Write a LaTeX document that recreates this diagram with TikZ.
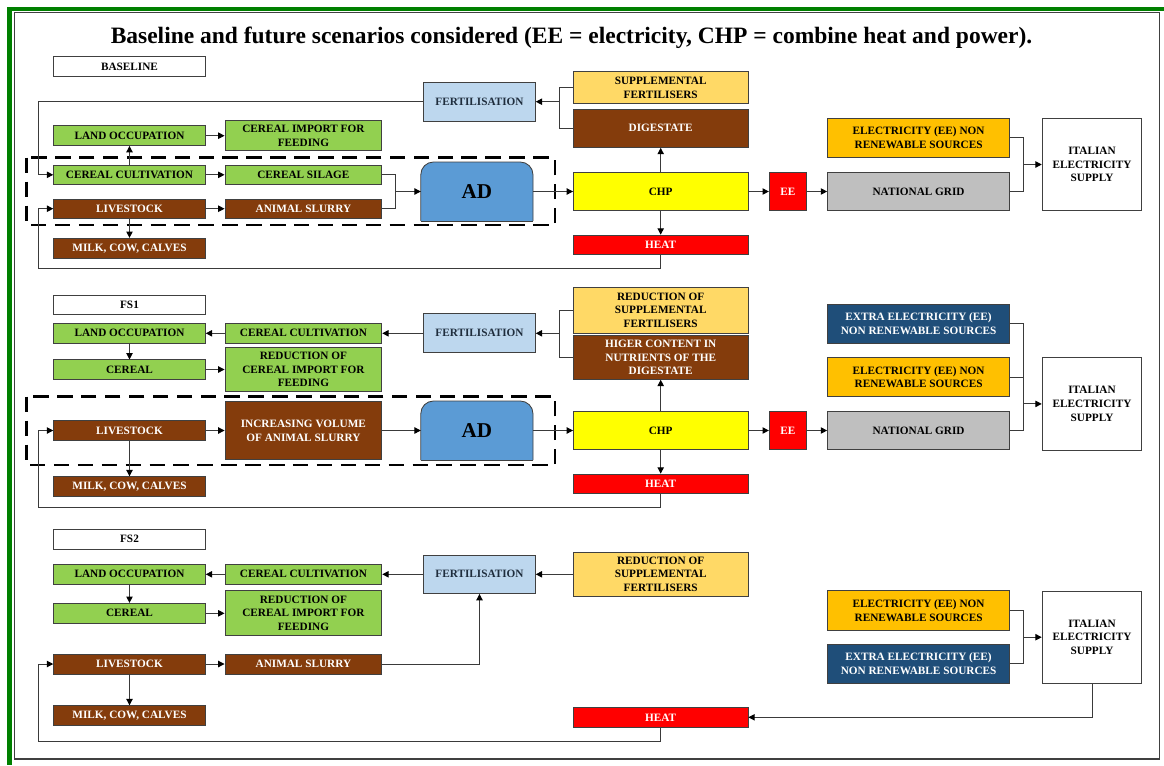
\documentclass[tikz,border=0pt]{standalone}
\usepackage{fontspec}
\setmainfont{Liberation Serif}
\usepackage{xcolor}
\usepackage{tikz}
\usetikzlibrary{positioning,arrows.meta,backgrounds}
\definecolor{cgreen}{HTML}{92D050}
\definecolor{cbrown}{HTML}{843C0C}
\definecolor{cfert}{HTML}{BDD7EE}
\definecolor{csupp}{HTML}{FFD966}
\definecolor{cchp}{HTML}{FFFF00}
\definecolor{cred}{HTML}{FF0000}
\definecolor{cgrid}{HTML}{BFBFBF}
\definecolor{celec}{HTML}{FFC000}
\definecolor{cblue}{HTML}{1F4E79}
\definecolor{cad}{HTML}{5B9BD5}
\definecolor{boxline}{HTML}{404040}
\definecolor{cline}{HTML}{3A3A3A}
\definecolor{cframe}{HTML}{008000}
\definecolor{navytext}{HTML}{1F2D3D}

\begin{document}
\begin{tikzpicture}[
  x=0.025cm, y=-0.025cm,
  box/.style={
    draw=boxline,
    line width=0.6pt,
    rectangle,
    align=center,
    inner sep=1pt,
    font=\fontsize{8}{9.8}\selectfont\bfseries
  },
  whtbox/.style={box, fill=white},
  grnbox/.style={box, fill=cgreen},
  brnbox/.style={box, fill=cbrown, text=white},
  fertbox/.style={box, fill=cfert, text=navytext},
  suppbox/.style={box, fill=csupp},
  chpbox/.style={box, fill=cchp},
  redbox/.style={box, fill=cred, text=white},
  gridbox/.style={box, fill=cgrid},
  elecbox/.style={box, fill=celec},
  bluebox/.style={box, fill=cblue, text=white},
  adbox/.style={minimum width=2.79cm, minimum height=1.46cm, font=\fontsize{15}{17}\selectfont\bfseries},
  adshape/.style={fill=cad, draw=boxline, line width=0.6pt, rounded corners=9pt},
  wL/.style={minimum width=3.79cm},
  wM/.style={minimum width=3.92cm},
  wF/.style={minimum width=2.79cm},
  wC/.style={minimum width=4.36cm},
  wG/.style={minimum width=4.55cm},
  wI/.style={minimum width=2.49cm},
  link/.style={draw=cline, line width=0.7pt},
  arr/.style={link, -{Triangle[length=4.5pt,width=4.5pt,color=black]}},
  dashbox/.style={draw=black, line width=1.9pt, dash pattern=on 11pt off 6pt}
]
\useasboundingbox (0,0) rectangle (1164,765);

\fill[cframe] (7,6.5) rectangle (1164,10.5);
\fill[cframe] (7,6.5) rectangle (12,765);
\draw[boxline, line width=0.8pt] (14.5,12.5) rectangle (1159.5,759);

\node[font=\fontsize{16.7}{18}\selectfont\bfseries] (title) at (571.5,38)
{Baseline and future scenarios considered (EE = electricity, CHP = combine heat and power).};

\node[whtbox, wL, minimum height=0.5cm] (base) at (129.5,66.7) {BASELINE};
\node[fertbox, wF, minimum height=0.97cm] (fert1) at (479.5,101.7) {FERTILISATION};
\node[suppbox, wC, minimum height=0.79cm] (supp1) at (660.7,87.5) {SUPPLEMENTAL\\FERTILISERS};
\node[brnbox, wC, minimum height=0.96cm] (dig1) at (660.7,128.2) {DIGESTATE};
\node[grnbox, wL, minimum height=0.49cm] (land1) at (129.5,135.7) {LAND OCCUPATION};
\node[grnbox, wM, minimum height=0.75cm] (imp1) at (303.4,135.7) {CEREAL IMPORT FOR\\FEEDING};
\node[elecbox, wG, minimum height=0.98cm] (elec1) at (918.6,137.8) {ELECTRICITY (EE) NON\\RENEWABLE SOURCES};
\node[whtbox, wI, minimum height=2.31cm] (ital1) at (1092,164.5) {ITALIAN\\ELECTRICITY\\SUPPLY};
\node[grnbox, wL, minimum height=0.48cm] (cult1) at (129.5,174.8) {CEREAL CULTIVATION};
\node[grnbox, wM, minimum height=0.48cm] (sil1) at (303.4,174.8) {CEREAL SILAGE};
\node[adbox] (ad1) at (476.9,191.5) {AD};
\node[chpbox, wC, minimum height=0.96cm] (chp1) at (660.7,191.5) {CHP};
\node[redbox, minimum width=0.93cm, minimum height=0.96cm] (ee1) at (787.9,191.5) {EE};
\node[gridbox, wG, minimum height=0.96cm] (grid1) at (918.6,191.5) {NATIONAL GRID};
\node[brnbox, wL, minimum height=0.48cm] (live1) at (129.5,208.7) {LIVESTOCK};
\node[brnbox, wM, minimum height=0.48cm] (slur1) at (303.4,208.7) {ANIMAL SLURRY};
\node[brnbox, wL, minimum height=0.5cm] (milk1) at (129.5,248.3) {MILK, COW, CALVES};
\node[redbox, wC, minimum height=0.48cm] (heat1) at (660.7,244.7) {HEAT};

\draw[dashbox] (26.6,157.7) rectangle (555,225);

\coordinate (j1) at (559.4,101.7);
\draw[link] (supp1.west) -| (j1) |- (dig1.west);
\draw[arr] (j1) -- (fert1);
\coordinate (l1) at (38.8,101.7);
\draw[arr] (fert1.west) -- (l1) |- (cult1.west);
\draw[arr] (cult1) -- (land1);
\draw[arr] (land1) -- (imp1);
\draw[arr] (cult1) -- (sil1);
\draw[arr] (live1) -- (slur1);
\draw[arr] (live1) -- (milk1);
\coordinate (m1) at (395.9,191.5);
\draw[link] (sil1.east) -| (m1) |- (slur1.east);
\draw[arr] (m1) -- (ad1);
\draw[arr] (ad1) -- (chp1);
\draw[arr] (chp1) -- (dig1);
\draw[arr] (chp1) -- (heat1);
\draw[arr] (chp1) -- (ee1);
\draw[arr] (ee1) -- (grid1);
\coordinate (j2) at (1023.4,164.5);
\draw[link] (elec1.east) -| (j2) |- (grid1.east);
\draw[arr] (j2) -- (ital1);
\coordinate (l2) at (38.8,268.3);
\draw[arr] (heat1.south) |- (l2) |- (live1.west);

\node[whtbox, wL, minimum height=0.48cm] (fs1) at (129.5,305.3) {FS1};
\node[grnbox, wL, minimum height=0.5cm] (land2) at (129.5,333.3) {LAND OCCUPATION};
\node[grnbox, wM, minimum height=0.5cm] (cult2) at (303.4,333.3) {CEREAL CULTIVATION};
\node[fertbox, wF, minimum height=0.975cm] (fert2) at (479.5,333.3) {FERTILISATION};
\node[suppbox, wC, minimum height=1.15cm] (supp2) at (660.7,310.3) {REDUCTION OF\\SUPPLEMENTAL\\FERTILISERS};
\node[brnbox, wC, minimum height=1.09cm] (dig2) at (660.7,357.5) {HIGER CONTENT IN\\NUTRIENTS OF THE\\DIGESTATE};
\node[bluebox, wG, minimum height=0.98cm] (extra2) at (918.6,323.7) {EXTRA ELECTRICITY (EE)\\NON RENEWABLE SOURCES};
\node[elecbox, wG, minimum height=0.98cm] (elec2) at (918.6,377.2) {ELECTRICITY (EE) NON\\RENEWABLE SOURCES};
\node[whtbox, wI, minimum height=2.31cm] (ital2) at (1092,403.9) {ITALIAN\\ELECTRICITY\\SUPPLY};
\node[grnbox, wL, minimum height=0.48cm] (cer2) at (129.5,369.5) {CEREAL};
\node[grnbox, wM, minimum height=1.08cm] (red2) at (303.4,369.5) {REDUCTION OF\\CEREAL IMPORT FOR\\FEEDING};
\node[brnbox, wL, minimum height=0.48cm] (live2) at (129.5,430.5) {LIVESTOCK};
\node[brnbox, wM, minimum height=1.43cm] (inc2) at (303.4,430.5) {INCREASING VOLUME\\OF ANIMAL SLURRY};
\node[adbox] (ad2) at (476.9,430.5) {AD};
\node[chpbox, wC, minimum height=0.97cm] (chp2) at (660.7,430.5) {CHP};
\node[redbox, minimum width=0.93cm, minimum height=0.97cm] (ee2) at (787.9,430.5) {EE};
\node[gridbox, wG, minimum height=0.97cm] (grid2) at (918.6,430.5) {NATIONAL GRID};
\node[brnbox, wL, minimum height=0.5cm] (milk2) at (129.5,486.7) {MILK, COW, CALVES};
\node[redbox, wC, minimum height=0.48cm] (heat2) at (660.7,483.7) {HEAT};

\draw[dashbox] (26.6,396.7) rectangle (555,465);

\coordinate (j3) at (559.4,333.3);
\draw[link] (supp2.west) -| (j3) |- (dig2.west);
\draw[arr] (j3) -- (fert2);
\draw[arr] (fert2) -- (cult2);
\draw[arr] (cult2) -- (land2);
\draw[arr] (land2) -- (cer2);
\draw[arr] (cer2) -- (red2);
\draw[arr] (live2) -- (inc2);
\draw[arr] (inc2) -- (ad2);
\draw[arr] (ad2) -- (chp2);
\draw[arr] (live2) -- (milk2);
\draw[arr] (chp2) -- (dig2);
\draw[arr] (chp2) -- (heat2);
\draw[arr] (chp2) -- (ee2);
\draw[arr] (ee2) -- (grid2);
\coordinate (j4) at (1023.4,403.9);
\draw[link] (extra2.east) -| (j4) |- (grid2.east);
\draw[link] (elec2.east) -- (elec2.east -| j4);
\draw[arr] (j4) -- (ital2);
\coordinate (l3) at (38.8,507.7);
\draw[arr] (heat2.south) |- (l3) |- (live2.west);

\node[whtbox, wL, minimum height=0.5cm] (fs2) at (129.5,539.3) {FS2};
\node[grnbox, wL, minimum height=0.5cm] (land3) at (129.5,574.3) {LAND OCCUPATION};
\node[grnbox, wM, minimum height=0.5cm] (cult3) at (303.4,574.3) {CEREAL CULTIVATION};
\node[fertbox, wF, minimum height=0.96cm] (fert3) at (479.5,574.3) {FERTILISATION};
\node[suppbox, wC, minimum height=1.11cm] (supp3) at (660.7,574.3) {REDUCTION OF\\SUPPLEMENTAL\\FERTILISERS};
\node[grnbox, wL, minimum height=0.5cm] (cer3) at (129.5,613.3) {CEREAL};
\node[grnbox, wM, minimum height=1.125cm] (red3) at (303.4,613.3) {REDUCTION OF\\CEREAL IMPORT FOR\\FEEDING};
\node[elecbox, wG, minimum height=0.98cm] (elec3) at (918.6,610.5) {ELECTRICITY (EE) NON\\RENEWABLE SOURCES};
\node[bluebox, wG, minimum height=0.98cm] (extra3) at (918.6,663.8) {EXTRA ELECTRICITY (EE)\\NON RENEWABLE SOURCES};
\node[whtbox, wI, minimum height=2.31cm] (ital3) at (1092,637.2) {ITALIAN\\ELECTRICITY\\SUPPLY};
\node[brnbox, wL, minimum height=0.5cm] (live3) at (129.5,664) {LIVESTOCK};
\node[brnbox, wM, minimum height=0.5cm] (slur3) at (303.4,664) {ANIMAL SLURRY};
\node[brnbox, wL, minimum height=0.5cm] (milk3) at (129.5,715.7) {MILK, COW, CALVES};
\node[redbox, wC, minimum height=0.5cm] (heat3) at (660.7,717.3) {HEAT};

\draw[arr] (supp3) -- (fert3);
\draw[arr] (fert3) -- (cult3);
\draw[arr] (cult3) -- (land3);
\draw[arr] (land3) -- (cer3);
\draw[arr] (cer3) -- (red3);
\draw[arr] (live3) -- (slur3);
\draw[arr] (live3) -- (milk3);
\draw[arr] (slur3.east) -| (fert3.south);
\coordinate (j5) at (1023.4,637.2);
\draw[link] (elec3.east) -| (j5) |- (extra3.east);
\draw[arr] (j5) -- (ital3);
\draw[arr] (ital3.south) |- (heat3.east);
\coordinate (l4) at (38.8,741.7);
\draw[arr] (heat3.south) |- (l4) |- (live3.west);

\begin{scope}[on background layer]
\filldraw[adshape] (ad1.south west) -- (ad1.north west) -- (ad1.north east) -- (ad1.south east);
\draw[boxline, line width=0.6pt] (ad1.south west) -- (ad1.south east);
\filldraw[adshape] (ad2.south west) -- (ad2.north west) -- (ad2.north east) -- (ad2.south east);
\draw[boxline, line width=0.6pt] (ad2.south west) -- (ad2.south east);
\end{scope}

\end{tikzpicture}
\end{document}
